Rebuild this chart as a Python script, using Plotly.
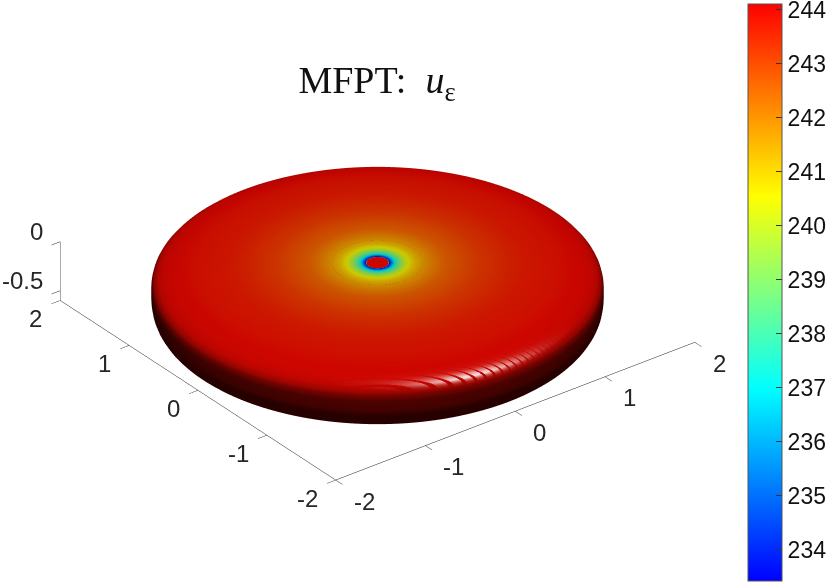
import numpy as np
import plotly.graph_objects as go

# Radial profile of the upper half of the body, from centre to rim
profile_r = [0.02, 0.05, 0.09, 0.097, 0.103, 0.115, 0.125, 0.135, 0.15, 0.18, 0.22, 0.27, 0.33, 0.4, 0.5,
             0.6, 0.75, 0.9, 1.05, 1.2, 1.3, 1.4, 1.5, 1.6, 1.65, 1.7, 1.75, 1.8, 1.84, 1.88, 1.91, 1.94, 1.96, 1.98, 1.99, 1.998, 1.9998, 2.0]
profile_z = [0.0, 0.0, 0.0, 0.0, 0.0, 0.0, 0.0, 0.0, 0.0, 0.0, 0.0, 0.0, 0.0, 0.0, -0.0007,
             -0.0013, -0.0028, -0.0054, -0.0093, -0.0153, -0.0207, -0.0276, -0.0365, -0.0482, -0.0553, -0.0637, -0.0736, -0.0857, -0.0974, -0.112, -0.1259, -0.1441, -0.1606, -0.1853, -0.2057, -0.2404, -0.27, -0.30]
profile_u = [244.0, 244.0, 244.0, 244.0, 233.6, 234.5, 235.3, 236.0, 237.0, 238.3, 239.5, 240.5, 241.2, 241.7, 242.2,
             242.6, 242.9, 243.2, 243.4, 243.6, 243.7, 243.75, 243.8, 243.85, 243.9, 243.95, 244.0, 244.0, 244.0, 244.0, 244.0, 244.0, 244.0, 244.0, 244.0, 244.0, 244.0, 244.0]
underside_u = 244.0
underside_depth = 1.4

x_ticks = [-2, -1, 0, 1, 2]
y_ticks = [-2, -1, 0, 1, 2]
z_ticks = [-0.5, 0]
x_text = ["-2", "-1", "0", "1", "2"]
y_text = ["-2", "-1", "0", "1", "2"]
z_text = ["-0.5", "0"]
cbar_ticks = [234, 235, 236, 237, 238, 239, 240, 241, 242, 243, 244]
rainbow = [[0, "#0000ff"], [1/3, "#00ffff"], [2/3, "#ffff00"], [1, "#ff0000"]]

r_top, z_top, u_top = map(np.array, (profile_r, profile_z, profile_u))
r = np.concatenate([r_top, r_top[-2::-1]])
z = np.concatenate([z_top, np.maximum(-0.3 - underside_depth * (z_top[-2::-1] + 0.3), -0.599)])
u = np.concatenate([u_top, np.full(len(r_top) - 1, underside_u)])
th = np.linspace(0, 2 * np.pi, 361)
X = np.outer(r, np.cos(th))
Y = np.outer(r, np.sin(th))
Z = np.outer(z, np.ones_like(th))
C = np.outer(u, np.ones_like(th))

body = go.Surface(
    x=X, y=Y, z=Z, surfacecolor=C, colorscale=rainbow, cmin=233.43, cmax=244.12,
    hoverinfo="skip",
    lighting=dict(ambient=0.15, diffuse=0.66, specular=0, roughness=0.5, fresnel=0),
    lightposition=dict(x=3560, y=5440, z=-100),
    colorbar=dict(
        x=748 / 831, xanchor="left", xpad=0, y=0.5, yanchor="middle", ypad=0,
        len=577, lenmode="pixels", thickness=34, thicknessmode="pixels",
        tickmode="array", tickvals=cbar_ticks, ticks="inside", ticklen=6, tickcolor="#333333",
        outlinecolor="#555555", outlinewidth=1, ticklabeloverflow="allow",
        tickfont=dict(family="Liberation Sans", size=23, color="#111111"),
    ),
)

# Glossy highlight on the upper rim: a separate white layer, faded by opacity,
# on a finer mesh over the front arc only so that the sheen stays smooth.
dr = np.gradient(r_top)
dz = np.gradient(z_top)
nrm = np.hypot(dr, dz)
nr, nz = -dz / nrm, dr / nrm
half = np.array([-0.13, -0.60, 0.79])
rows = np.flatnonzero(r_top >= 1.7)
idx = np.linspace(rows[0], rows[-1], 220)
full = np.arange(len(r_top))
r_f, z_f = np.interp(idx, full, r_top), np.interp(idx, full, z_top)
nr_f, nz_f = np.interp(idx, full, nr), np.interp(idx, full, nz)
nn = np.hypot(nr_f, nz_f)
nr_f, nz_f = nr_f / nn, nz_f / nn
th_f = np.linspace(-np.pi, 0, 721)
lift = 0.025
gloss = np.clip(np.outer(nr_f, np.cos(th_f)) * half[0] + np.outer(nr_f, np.sin(th_f)) * half[1]
                + np.outer(nz_f, np.ones_like(th_f)) * half[2], 0, 1) ** 60
highlight = go.Surface(
    x=np.outer(r_f + lift * nr_f, np.cos(th_f)),
    y=np.outer(r_f + lift * nr_f, np.sin(th_f)),
    z=np.outer(z_f + lift * nz_f, np.ones_like(th_f)),
    surfacecolor=gloss, cmin=0, cmax=1, showscale=False,
    colorscale=[[0, "#ffffff"], [1, "#ffffff"]],
    opacityscale=[[0, 0], [1, 0.85]],
    hoverinfo="skip",
    lighting=dict(ambient=1, diffuse=0, specular=0, roughness=0.5, fresnel=0),
)

fig = go.Figure([body, highlight])

axis = dict(showgrid=False, zeroline=False, showbackground=False, showspikes=False,
            showline=True, linecolor="#1a1a1a", linewidth=1, ticks="outside", ticklen=11,
            tickcolor="#1a1a1a", tickwidth=1, title=dict(text=""), tickmode="array",
            showticklabels=False)

label_font = dict(family="Liberation Sans", size=24, color="#262626")
annotations = []
for v, t in zip(x_ticks, x_text):
    annotations.append(dict(x=v, y=-2, z=-0.6, text=t, showarrow=False, font=label_font,
                            xanchor="left", xshift=16, yshift=-21))
for v, t in zip(y_ticks, y_text):
    annotations.append(dict(x=-2, y=v, z=-0.6, text=t, showarrow=False, font=label_font,
                            xanchor="right", xshift=-16, yshift=-18))
for v, t in zip(z_ticks, z_text):
    annotations.append(dict(x=-2, y=2, z=v, text=t, showarrow=False, font=label_font,
                            xanchor="right", xshift=-15, yshift=10))

fig.update_layout(
    width=831, height=584, margin=dict(l=0, r=0, t=0, b=0, autoexpand=False), paper_bgcolor="white",
    title=dict(text="MFPT:  <i>u</i><sub>ε</sub>", x=377 / 831, xanchor="center", y=1 - 80 / 584, yanchor="middle",
               font=dict(family="Liberation Serif", size=38, color="#111111")),
    scene=dict(
        domain=dict(x=[0, 755 / 831], y=[0, 1]),
        xaxis=dict(axis, range=[-2, 2], tickvals=x_ticks),
        yaxis=dict(axis, range=[-2, 2], tickvals=y_ticks),
        zaxis=dict(axis, range=[-0.6, 0], tickvals=z_ticks),
        aspectmode="manual", aspectratio=dict(x=1.55, y=1.55, z=0.2325),
        annotations=annotations,
        camera=dict(projection=dict(type="orthographic"),
                    center=dict(x=0, y=0, z=0),
                    eye=dict(x=-0.527 * 1.29, y=-0.687 * 1.29, z=0.5 * 1.29),
                    up=dict(x=0, y=0, z=1)),
    ),
)
fig.write_html("out.html", post_script="document.body.style.margin='0';", config=dict(displayModeBar=False))
